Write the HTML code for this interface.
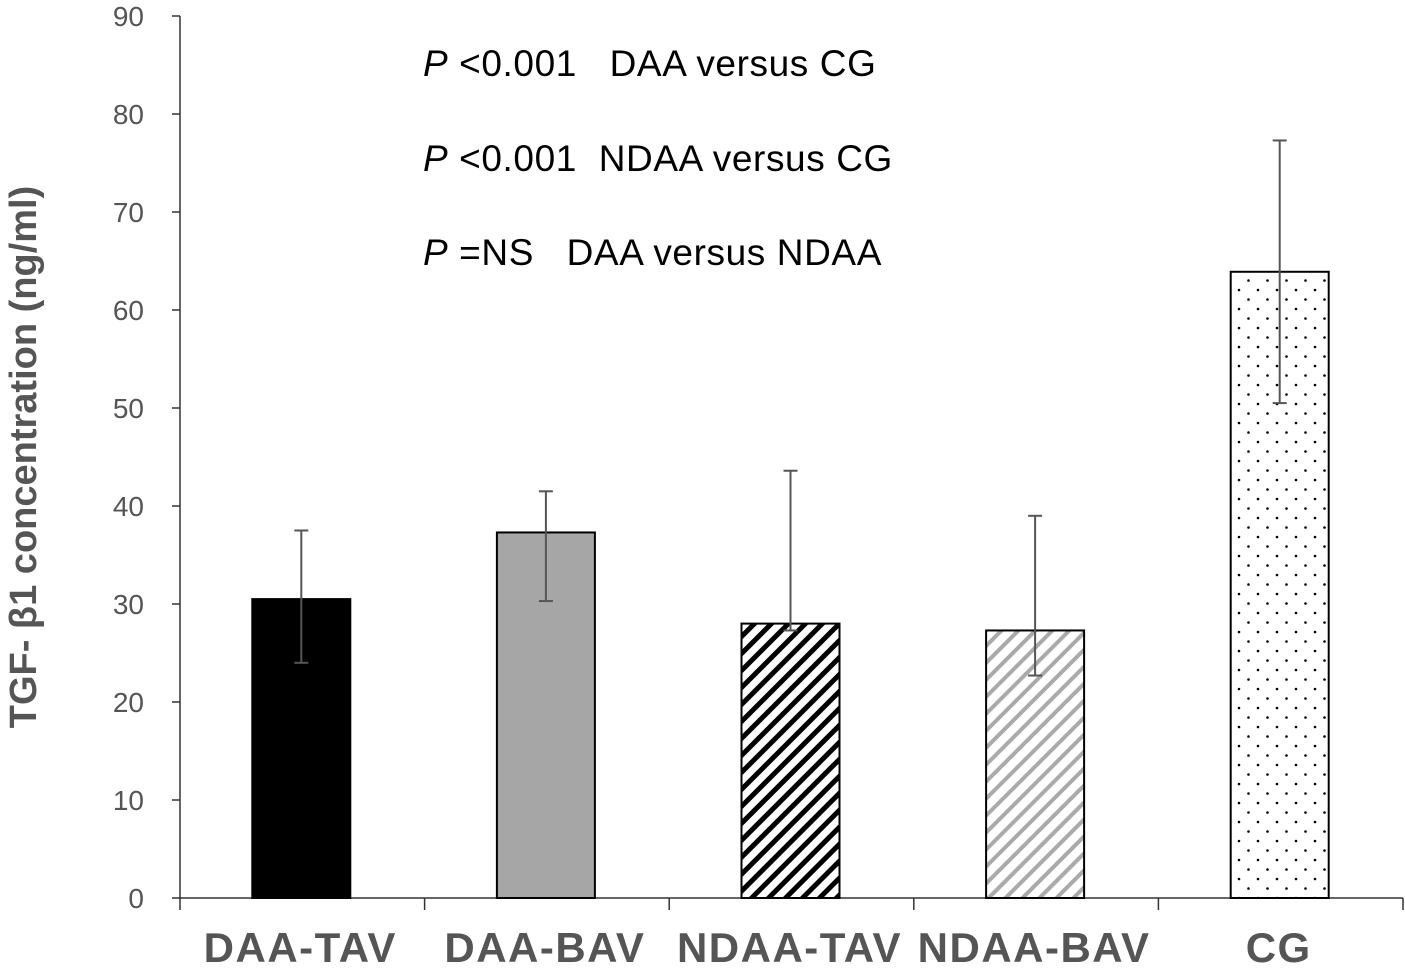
<!DOCTYPE html>
<html><head><meta charset="utf-8"><style>
html,body{margin:0;padding:0;background:#fff;}
svg{display:block;font-family:"Liberation Sans",sans-serif;}
.ann{white-space:pre;}
</style></head><body>
<svg id="chart" width="1405" height="969" viewBox="0 0 1405 969">
<defs>
<pattern id="stripeBlack" patternUnits="userSpaceOnUse" width="12" height="12" patternTransform="rotate(45)">
<rect width="12" height="12" fill="#fff"/><rect width="5" height="12" fill="#000"/></pattern>
<pattern id="stripeGray" patternUnits="userSpaceOnUse" width="12" height="12" patternTransform="rotate(45)">
<rect width="12" height="12" fill="#fff"/><rect width="4" height="12" fill="#aaa"/></pattern>
<pattern id="dots" patternUnits="userSpaceOnUse" width="19" height="19">
<rect width="19" height="19" fill="#fff"/><circle cx="4" cy="5" r="1.3" fill="#000"/><circle cx="13.5" cy="14.5" r="1.3" fill="#000"/></pattern>
</defs>
<g id="axes"></g>
<g id="bars"></g>
<g font-size="37" letter-spacing="0.6" fill="#000">
<text class="ann" xml:space="preserve" x="423" y="76"><tspan font-style="italic">P</tspan> &lt;0.001   DAA versus CG</text>
<text class="ann" xml:space="preserve" x="423" y="171"><tspan font-style="italic">P</tspan> &lt;0.001  NDAA versus CG</text>
<text class="ann" xml:space="preserve" x="423" y="265"><tspan font-style="italic">P</tspan> =NS   DAA versus NDAA</text>
</g>
<text transform="translate(36,457) rotate(-90)" text-anchor="middle" font-size="38" font-weight="bold" fill="#555">TGF- β1 concentration (ng/ml)</text>
</svg>
<script>
const categories=["DAA-TAV","DAA-BAV","NDAA-TAV","NDAA-BAV","CG"];
const means=[30.5,37.3,28,27.3,63.9];
const errLow=[24,30.3,27.3,22.7,50.5];
const errHigh=[37.5,41.5,43.6,39,77.3];
const yTicks=[0,10,20,30,40,50,60,70,80,90];
const fills=["#000","#a6a6a6","url(#stripeBlack)","url(#stripeGray)","url(#dots)"];
const NS="http://www.w3.org/2000/svg";
const x0=180,x1=1403,yBase=898,yTop=16;
const y=v=>yBase-(v/90)*(yBase-yTop);
const bw=(x1-x0)/categories.length;
const xc=i=>x0+bw*(i+0.5);
function mk(t,a,p){const e=document.createElementNS(NS,t);for(const k in a)e.setAttribute(k,a[k]);p.appendChild(e);return e;}
const ax=document.getElementById('axes'),bars=document.getElementById('bars');
const yl=mk('line',{x1:x0,y1:yTop,x2:x0,y2:yBase,stroke:'#333','stroke-width':1.5},ax);


const xl=mk('line',{x1:x0,y1:yBase,x2:x1,y2:yBase,stroke:'#333','stroke-width':1.5},ax);


yTicks.forEach(v=>{
 mk('line',{x1:x0-8,y1:y(v),x2:x0,y2:y(v),stroke:'#333','stroke-width':1.5},ax);
 const t=mk('text',{x:x0-36,y:y(v)+10,'text-anchor':'end','font-size':28,fill:'#555'},ax);
 t.textContent=v;
 
 
});
for(let i=0;i<=categories.length;i++){mk('line',{x1:x0+bw*i,y1:yBase,x2:x0+bw*i,y2:yBase+12,stroke:'#333','stroke-width':1.5},ax);}
categories.forEach((c,i)=>{
 const t=mk('text',{x:xc(i)-2,y:962,'text-anchor':'middle','font-size':42,'letter-spacing':1.5,'font-weight':'bold',fill:'#555'},ax);
 t.textContent=c;
 
 
 const r=mk('rect',{x:xc(i)-50,y:y(means[i]),width:98,height:yBase-y(means[i]),fill:fills[i],stroke:'#000','stroke-width':2},bars);
 
 
 const g=mk('g',{stroke:'#555','stroke-width':2},bars);
 
 
 mk('line',{x1:xc(i)-1,y1:y(errLow[i]),x2:xc(i)-1,y2:y(errHigh[i])},g);
 mk('line',{x1:xc(i)-8,y1:y(errLow[i]),x2:xc(i)+6,y2:y(errLow[i])},g);
 mk('line',{x1:xc(i)-8,y1:y(errHigh[i]),x2:xc(i)+6,y2:y(errHigh[i])},g);
});
</script>
</body></html>
